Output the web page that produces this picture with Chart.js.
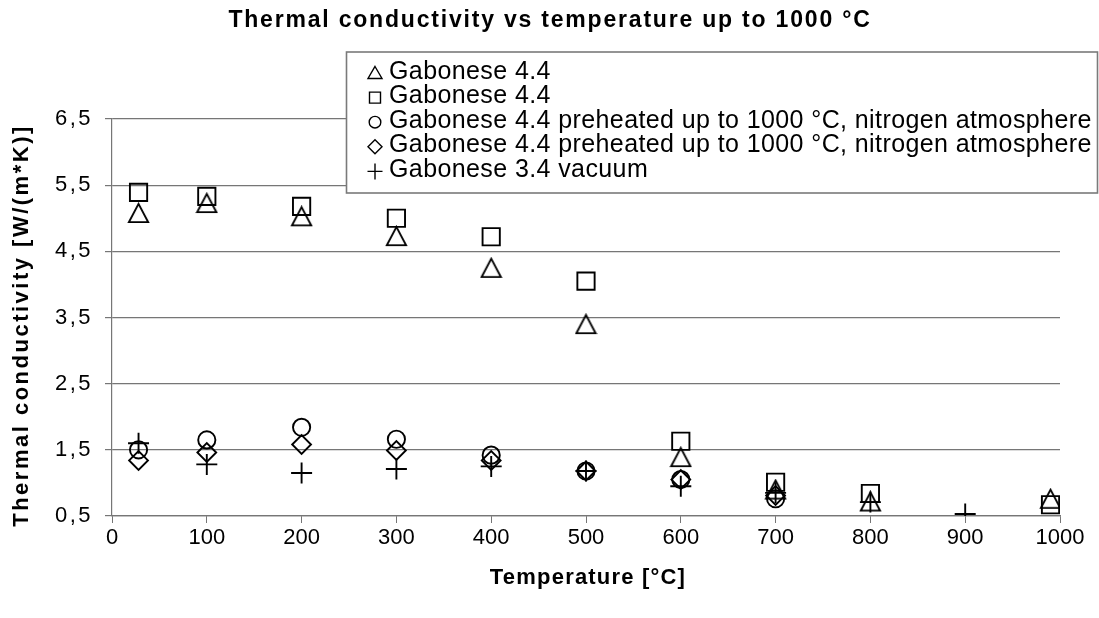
<!DOCTYPE html>
<html>
<head>
<meta charset="utf-8">
<script src="https://cdn.jsdelivr.net/npm/chart.js@4/dist/chart.umd.min.js"></script>
<style>
  html, body { margin: 0; padding: 0; background: #ffffff; }
  #wrap { width: 1099px; height: 618px; position: relative; }
</style>
</head>
<body>
<div id="wrap"><canvas id="c" width="1099" height="618"></canvas></div>
<script>
// ---------------- data ----------------
const chartTitle = 'Thermal conductivity vs temperature up to 1000 °C';
const xAxisTitle = 'Temperature [°C]';
const yAxisTitle = 'Thermal conductivity [W/(m*K)]';
const seriesNames = [
  'Gabonese 4.4',
  'Gabonese 4.4',
  'Gabonese 4.4 preheated up to 1000 °C, nitrogen atmosphere',
  'Gabonese 4.4 preheated up to 1000 °C, nitrogen atmosphere',
  'Gabonese 3.4 vacuum'
];
const tempsTriangle = [28, 100, 200, 300, 400, 500, 600, 700, 800, 990];
const triangleValues = [5.08, 5.23, 5.03, 4.73, 4.25, 3.40, 1.39, 0.90, 0.72, 0.76];
const tempsSquare = [28, 100, 200, 300, 400, 500, 600, 700, 800, 990];
const squareValues = [5.39, 5.33, 5.18, 5.00, 4.72, 4.05, 1.63, 1.01, 0.84, 0.67];
const tempsCircle = [28, 100, 200, 300, 400, 500, 600, 700];
const circleValues = [1.50, 1.65, 1.84, 1.66, 1.42, 1.18, 1.05, 0.76];
const tempsDiamond = [28, 100, 200, 300, 400, 500, 600, 700];
const diamondValues = [1.34, 1.46, 1.58, 1.49, 1.34, 1.18, 1.05, 0.81];
const tempsPlus = [28, 100, 200, 300, 400, 500, 600, 700, 800, 900];
const plusValues = [1.60, 1.28, 1.15, 1.21, 1.25, 1.18, 0.95, 0.85, 0.71, 0.53];
const xTickLabels = ['0', '100', '200', '300', '400', '500', '600', '700', '800', '900', '1000'];
const yTickLabels = ['0,5', '1,5', '2,5', '3,5', '4,5', '5,5', '6,5'];

// ---------------- styling ----------------
const FONT = '"Liberation Sans", Arial, Helvetica, sans-serif';
const GRID = '#767676';
Chart.defaults.font.family = FONT;
Chart.defaults.color = '#000000';

function pts(xs, ys) { return xs.map((x, i) => ({ x: x, y: ys[i] })); }

function makeTriangle(w, h, lw) {
  const c = document.createElement('canvas');
  c.width = Math.ceil(w + lw * 2);
  c.height = Math.ceil(h + lw * 2);
  const g = c.getContext('2d');
  g.strokeStyle = '#000';
  g.lineWidth = lw;
  g.lineJoin = 'miter';
  g.beginPath();
  g.moveTo(c.width / 2, lw);
  g.lineTo(c.width - lw, c.height - lw);
  g.lineTo(lw, c.height - lw);
  g.closePath();
  g.stroke();
  return c;
}
const triangleImg = makeTriangle(19, 18, 1.9);

const common = { showLine: false, backgroundColor: 'rgba(0,0,0,0)', borderColor: '#000000', pointBorderWidth: 1.9, borderWidth: 1.9 };

const datasets = [
  Object.assign({ label: seriesNames[0], data: pts(tempsTriangle, triangleValues), pointStyle: triangleImg, pointRadius: 10 }, common),
  Object.assign({ label: seriesNames[1], data: pts(tempsSquare, squareValues), pointStyle: 'rect', pointRadius: 12.2 }, common),
  Object.assign({ label: seriesNames[2], data: pts(tempsCircle, circleValues), pointStyle: 'circle', pointRadius: 8.6 }, common),
  Object.assign({ label: seriesNames[3], data: pts(tempsDiamond, diamondValues), pointStyle: 'rectRot', pointRadius: 9.4 }, common),
  Object.assign({ label: seriesNames[4], data: pts(tempsPlus, plusValues), pointStyle: 'cross', pointRadius: 10.5 }, common)
];

// letter spacing helper for texts drawn by Chart.js (Excel-like spacing)
function withSpacing(obj, method, px, shiftX, shiftY) {
  if (!obj || obj['_sp_' + method]) return;
  const orig = obj[method];
  obj[method] = function () {
    const ctx = this.ctx;
    const prev = ctx.letterSpacing;
    ctx.letterSpacing = px + 'px';
    this.left += shiftX; this.right += shiftX;
    this.top += shiftY; this.bottom += shiftY;
    const r = orig.apply(this, arguments);
    this.left -= shiftX; this.right -= shiftX;
    this.top -= shiftY; this.bottom -= shiftY;
    ctx.letterSpacing = prev || '0px';
    return r;
  };
  obj['_sp_' + method] = true;
}
const spacingPlugin = {
  id: 'spacing',
  beforeDraw(chart) {
    withSpacing(chart.titleBlock, 'draw', 1.8, 20, 1);
    withSpacing(chart.scales.x, 'drawTitle', 1.2, 2, 0);
    withSpacing(chart.scales.y, 'drawTitle', 2.5, 0, 8);
    withSpacing(chart.scales.y, 'drawLabels', 2.5, 0, 0);
  }
};

// custom boxed legend drawn on the canvas
const legendSymbols = ['triangle', 'square', 'circle', 'diamond', 'plus'];
const boxLegend = {
  id: 'boxLegend',
  afterDraw(chart, args, opts) {
    const ctx = chart.ctx;
    const L = opts.left, T = opts.top, R = opts.right, B = opts.bottom;
    ctx.save();
    ctx.fillStyle = '#ffffff';
    ctx.fillRect(L, T, R - L, B - T);
    ctx.strokeStyle = '#7a7a7a';
    ctx.lineWidth = 1.6;
    ctx.strokeRect(L, T, R - L, B - T);
    ctx.font = opts.fontSize + 'px ' + FONT;
    ctx.letterSpacing = opts.spacing + 'px';
    ctx.fillStyle = '#000';
    ctx.textBaseline = 'alphabetic';
    ctx.textAlign = 'left';
    chart.data.datasets.forEach((ds, i) => {
      const base = opts.firstBaseline + i * opts.rowStep;
      const cx = opts.markerX, cy = base - 5.5;
      ctx.strokeStyle = '#000';
      ctx.lineWidth = 1.4;
      ctx.beginPath();
      const s = legendSymbols[i];
      if (s === 'triangle') {
        ctx.moveTo(cx, cy - 6.5); ctx.lineTo(cx + 7, cy + 5.5); ctx.lineTo(cx - 7, cy + 5.5); ctx.closePath();
      } else if (s === 'square') {
        ctx.rect(cx - 5.5, cy - 5.5, 11, 11);
      } else if (s === 'circle') {
        ctx.arc(cx, cy, 5.8, 0, Math.PI * 2);
      } else if (s === 'diamond') {
        ctx.moveTo(cx, cy - 7); ctx.lineTo(cx + 7, cy); ctx.lineTo(cx, cy + 7); ctx.lineTo(cx - 7, cy); ctx.closePath();
      } else {
        ctx.moveTo(cx - 7.5, cy); ctx.lineTo(cx + 7.5, cy); ctx.moveTo(cx, cy - 8); ctx.lineTo(cx, cy + 8);
      }
      ctx.stroke();
      ctx.fillText(ds.label, opts.textX, base);
    });
    ctx.restore();
  }
};

new Chart(document.getElementById('c'), {
  type: 'scatter',
  data: { datasets: datasets },
  plugins: [spacingPlugin, boxLegend],
  options: {
    responsive: false,
    animation: false,
    events: [],
    layout: { padding: { left: 0, right: 39, top: 0, bottom: 0 } },
    plugins: {
      legend: { display: false },
      tooltip: { enabled: false },
      title: {
        display: true,
        text: chartTitle,
        font: { size: 23, weight: 'bold', family: FONT },
        color: '#000',
        padding: { top: 6, bottom: 85.4 }
      },
      boxLegend: {
        left: 346.5, top: 52, right: 1097.5, bottom: 193,
        fontSize: 25, spacing: 0.4, markerX: 375, textX: 389,
        firstBaseline: 78.5, rowStep: 24.6
      }
    },
    scales: {
      x: {
        type: 'linear',
        min: 0, max: 1000,
        afterFit(scale) { scale.height = 102; },
        ticks: {
          stepSize: 100,
          padding: 2,
          font: { size: 22, family: FONT },
          color: '#000',
          maxRotation: 0,
          autoSkip: false,
          callback: (v, i) => xTickLabels[i]
        },
        grid: { drawOnChartArea: false, drawTicks: true, tickLength: 7, color: GRID, lineWidth: 1 },
        border: { display: true, color: GRID, width: 1.2 },
        title: {
          display: true,
          text: xAxisTitle,
          font: { size: 22, weight: 'bold', family: FONT },
          color: '#000',
          padding: { top: 4, bottom: 27 }
        }
      },
      y: {
        type: 'linear',
        min: 0.5, max: 6.5,
        afterFit(scale) { scale.width = 112; },
        ticks: {
          stepSize: 1,
          padding: 12,
          font: { size: 22, family: FONT },
          color: '#000',
          autoSkip: false,
          callback: (v, i) => yTickLabels[i]
        },
        grid: { drawOnChartArea: true, drawTicks: true, tickLength: 7, color: GRID, lineWidth: 1.2 },
        border: { display: true, color: GRID, width: 1.2 },
        title: {
          display: true,
          text: yAxisTitle,
          font: { size: 22, weight: 'bold', family: FONT },
          color: '#000',
          padding: { top: 9, bottom: 0 }
        }
      }
    }
  }
});
</script>
</body>
</html>
